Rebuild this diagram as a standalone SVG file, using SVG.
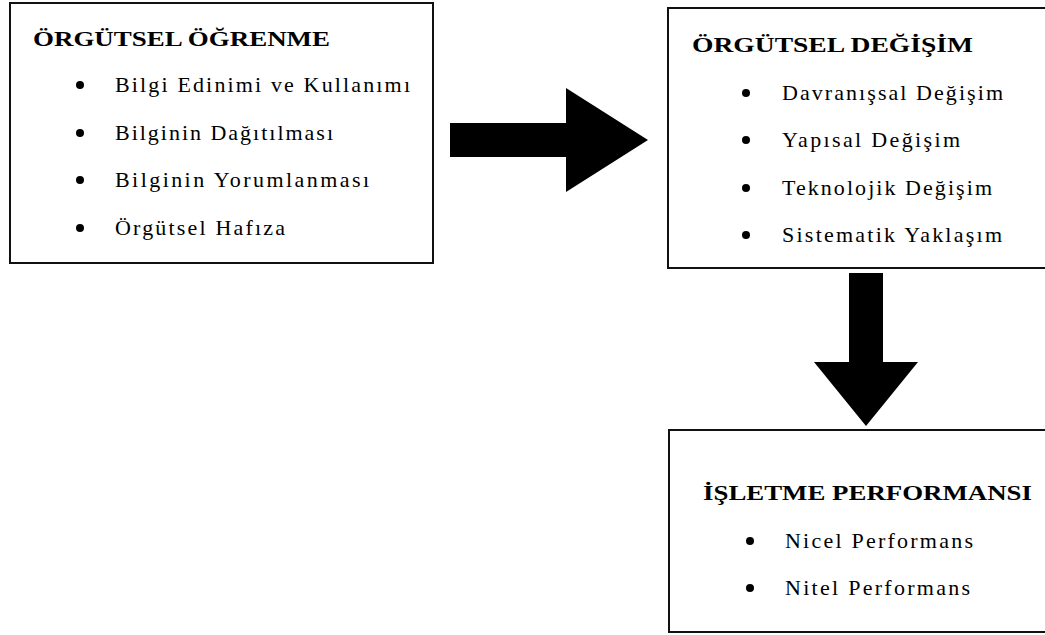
<svg xmlns="http://www.w3.org/2000/svg" width="1045" height="635" viewBox="0 0 1045 635">
  <style>
    .box { fill: #ffffff; stroke: #111111; stroke-width: 2; }
    .title { font-family: "Liberation Serif", "Times New Roman", serif; font-size: 21px; font-weight: bold; fill: #000; }
    .item { font-family: "Liberation Serif", "Times New Roman", serif; font-size: 22px; fill: #000; }
    .dot { fill: #000; }
    .arrow { fill: #000; }
  </style>
  <rect width="1045" height="635" fill="#ffffff"/>

  <!-- Organisational learning -->
  <g id="node-orgutsel-ogrenme">
    <rect class="box" x="10" y="3" width="423" height="260"/>
    <text class="title" x="33" y="46" textLength="297" lengthAdjust="spacingAndGlyphs">ÖRGÜTSEL ÖĞRENME</text>
    <circle class="dot" cx="80" cy="85" r="4"/>
    <text class="item" x="115" y="92" textLength="295" lengthAdjust="spacing">Bilgi Edinimi ve Kullanımı</text>
    <circle class="dot" cx="80" cy="133" r="4"/>
    <text class="item" x="115" y="140" textLength="218" lengthAdjust="spacing">Bilginin Dağıtılması</text>
    <circle class="dot" cx="80" cy="180" r="4"/>
    <text class="item" x="115" y="187" textLength="254" lengthAdjust="spacing">Bilginin Yorumlanması</text>
    <circle class="dot" cx="80" cy="228" r="4"/>
    <text class="item" x="115" y="235" textLength="170" lengthAdjust="spacing">Örgütsel Hafıza</text>
  </g>

  <!-- Organisational change -->
  <g id="node-orgutsel-degisim">
    <rect class="box" x="668" y="8" width="390" height="260"/>
    <text class="title" x="692" y="52" textLength="281" lengthAdjust="spacingAndGlyphs">ÖRGÜTSEL DEĞİŞİM</text>
    <circle class="dot" cx="746" cy="93" r="4"/>
    <text class="item" x="782" y="100" textLength="221" lengthAdjust="spacing">Davranışsal Değişim</text>
    <circle class="dot" cx="746" cy="140" r="4"/>
    <text class="item" x="782" y="147" textLength="178" lengthAdjust="spacing">Yapısal Değişim</text>
    <circle class="dot" cx="746" cy="188" r="4"/>
    <text class="item" x="782" y="195" textLength="210" lengthAdjust="spacing">Teknolojik Değişim</text>
    <circle class="dot" cx="746" cy="235" r="4"/>
    <text class="item" x="782" y="242" textLength="220" lengthAdjust="spacing">Sistematik Yaklaşım</text>
  </g>

  <!-- Business performance -->
  <g id="node-isletme-performansi">
    <rect class="box" x="669" y="430" width="390" height="202"/>
    <text class="title" x="703" y="500" textLength="329" lengthAdjust="spacingAndGlyphs">İŞLETME PERFORMANSI</text>
    <circle class="dot" cx="750" cy="541" r="4"/>
    <text class="item" x="785" y="548" textLength="188" lengthAdjust="spacing">Nicel Performans</text>
    <circle class="dot" cx="750" cy="588" r="4"/>
    <text class="item" x="785" y="595" textLength="185" lengthAdjust="spacing">Nitel Performans</text>
  </g>

  <!-- Block arrows between the stages -->
  <g id="connectors">
    <polygon id="arrow-learning-to-change" class="arrow" points="450,123 566,123 566,88 648,140 566,192 566,157 450,157"/>
    <polygon id="arrow-change-to-performance" class="arrow" points="849,273 883,273 883,362 918,362 866,426 814,362 849,362"/>
  </g>
</svg>
